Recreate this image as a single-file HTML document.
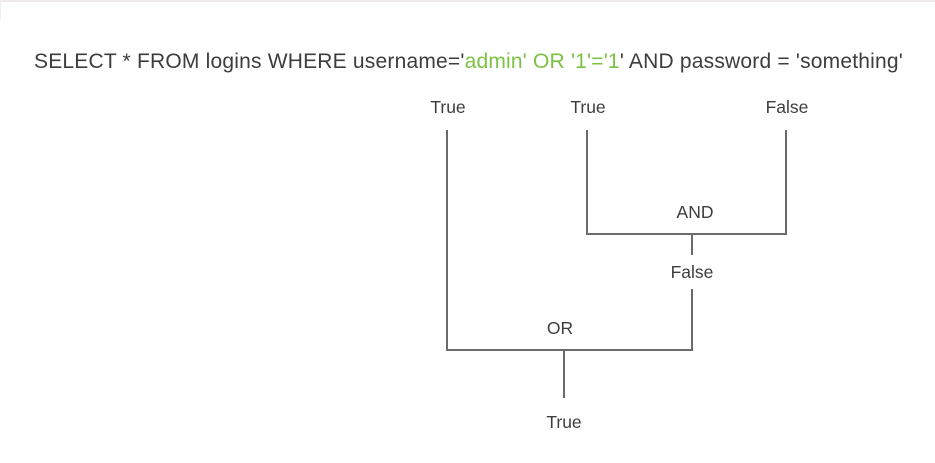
<!DOCTYPE html>
<html><head><meta charset="utf-8"><style>
html,body{margin:0;padding:0;background:#fff;}
body{width:935px;height:463px;position:relative;overflow:hidden;font-family:"Liberation Sans",sans-serif;color:#3d3d3d;}
.t{position:absolute;font-size:17.5px;transform:translateX(-50%);white-space:nowrap;}
#q{position:absolute;left:34px;top:50px;font-size:21px;white-space:nowrap;letter-spacing:0.2px;}
.g{color:#7cc242;}
</style></head><body>
<div style="position:absolute;left:0;top:0;width:935px;height:2px;background:#eeeaea"></div>
<div style="position:absolute;left:0;top:0;width:1px;height:20px;background:#f0eded"></div>
<div id="q">SELECT * FROM logins WHERE username='<span class="g">admin' OR '1'='1</span>' AND password = 'something'</div>
<svg width="935" height="463" style="position:absolute;left:0;top:0" fill="none" stroke="#6b6b6b" stroke-width="2">
<polyline points="447,130 447,350 692,350 692,289"/>
<polyline points="587,130 587,234 786,234 786,130"/>
<line x1="692" y1="234" x2="692" y2="255"/>
<line x1="564" y1="350" x2="564" y2="398"/>
</svg>
<div class="t" style="left:448px;top:97px">True</div>
<div class="t" style="left:588px;top:97px">True</div>
<div class="t" style="left:787px;top:97px">False</div>
<div class="t" style="left:695px;top:202px">AND</div>
<div class="t" style="left:692px;top:262px">False</div>
<div class="t" style="left:560px;top:318px">OR</div>
<div class="t" style="left:564px;top:412px">True</div>
</body></html>
